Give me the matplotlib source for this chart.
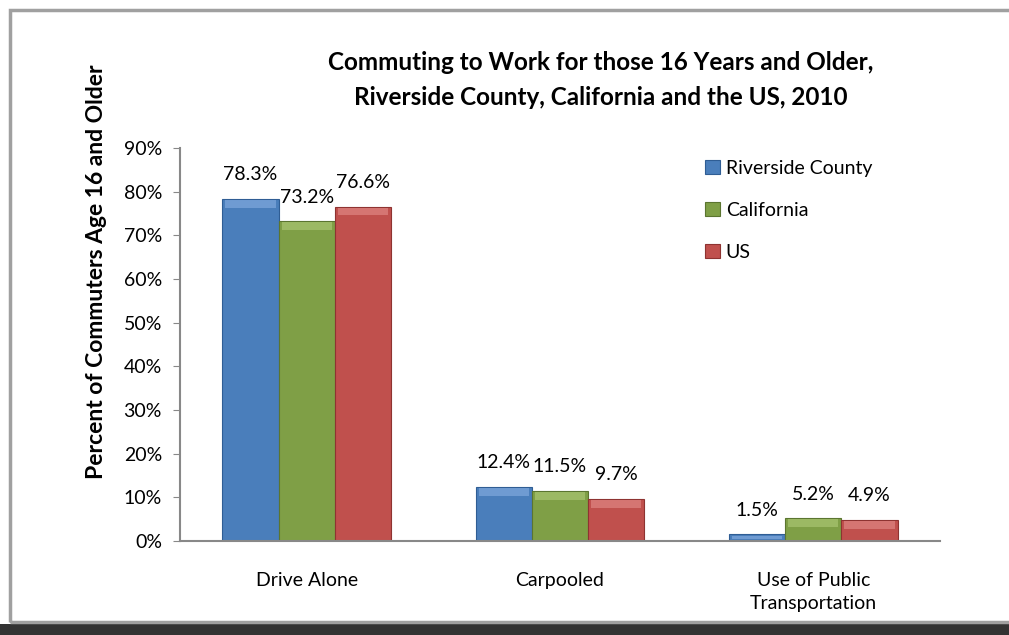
import matplotlib.pyplot as plt
import numpy as np
from matplotlib.patches import Rectangle

categories = ['Drive Alone', 'Carpooled', 'Use of Public\nTransportation']
riverside = [78.3, 12.4, 1.5]
california = [73.2, 11.5, 5.2]
us = [76.6, 9.7, 4.9]
series_names = ['Riverside County', 'California', 'US']
colors = ['#4a7ebb', '#7f9f46', '#c0504d']
tops = ['#7fa8dc', '#a9c572', '#de8683']
edges = ['#2f5d94', '#5b7530', '#8e3331']

plt.rcParams['font.family'] = ['Lato', 'DejaVu Sans']

fig = plt.figure(figsize=(10.09, 6.35), dpi=100)

# outer frame and dark strip at the bottom
fig.patches.append(Rectangle((0, 0), 1, 11 / 635, transform=fig.transFigure,
                             facecolor='#333333', edgecolor='none'))
fig.patches.append(Rectangle((10 / 1009, 13 / 635), 1.05, 612 / 635,
                             transform=fig.transFigure, facecolor='none',
                             edgecolor='#a0a0a0', linewidth=2.5))

ax = fig.add_axes([180 / 1009, (635 - 541) / 635, 760 / 1009, 393 / 635])

x = np.arange(len(categories))
w = 0.222
for i, (vals, name) in enumerate(zip([riverside, california, us], series_names)):
    pos = x + (i - 1) * w
    bars = ax.bar(pos, vals, w, color=colors[i], edgecolor=edges[i],
                  linewidth=0.8, label=name, zorder=3)
    # lighter bevel along the top of each bar
    for b, v in zip(bars, vals):
        h = min(1.8, v * 0.6)
        ax.add_patch(Rectangle((b.get_x() + 0.012, v - h - 0.25), w - 0.024, h,
                               facecolor=tops[i], edgecolor='none', alpha=0.7,
                               zorder=4))
        ax.text(b.get_x() + b.get_width() / 2, v + 3.6, f'{v}%',
                ha='center', va='bottom', fontsize=14)

ax.set_ylim(0, 90)
ax.set_xlim(-0.5, 2.5)
ax.set_yticks(np.arange(0, 91, 10))
ax.set_yticklabels([f'{t}%' for t in range(0, 91, 10)], fontsize=14)
ax.set_xticks(x)
ax.set_xticklabels(categories, fontsize=14, linespacing=1.45)
ax.tick_params(axis='x', length=0, pad=22)
ax.tick_params(axis='y', length=5, color='#888888', pad=8)
for s in ['top', 'right']:
    ax.spines[s].set_visible(False)
for s in ['left', 'bottom']:
    ax.spines[s].set_color('#888888')
    ax.spines[s].set_linewidth(1.5)
ax.spines['bottom'].set_zorder(5)

fig.text(97 / 1009, 1 - 272 / 635, 'Percent of Commuters Age 16 and Older',
         rotation=90, ha='center', va='center', fontsize=16.5,
         fontweight='bold')
fig.text(601 / 1009, 1 - 80 / 635,
         'Commuting to Work for those 16 Years and Older,\n'
         'Riverside County, California and the US, 2010',
         ha='center', va='center', fontsize=17.5, fontweight='bold',
         linespacing=1.6)

ax.legend(loc='upper left', bbox_to_anchor=(0.663, 1.025), frameon=False,
          fontsize=14, handlelength=0.75, handleheight=0.75,
          handletextpad=0.3, labelspacing=1.3, borderpad=0.6)

fig.savefig('out.png', dpi=100)
